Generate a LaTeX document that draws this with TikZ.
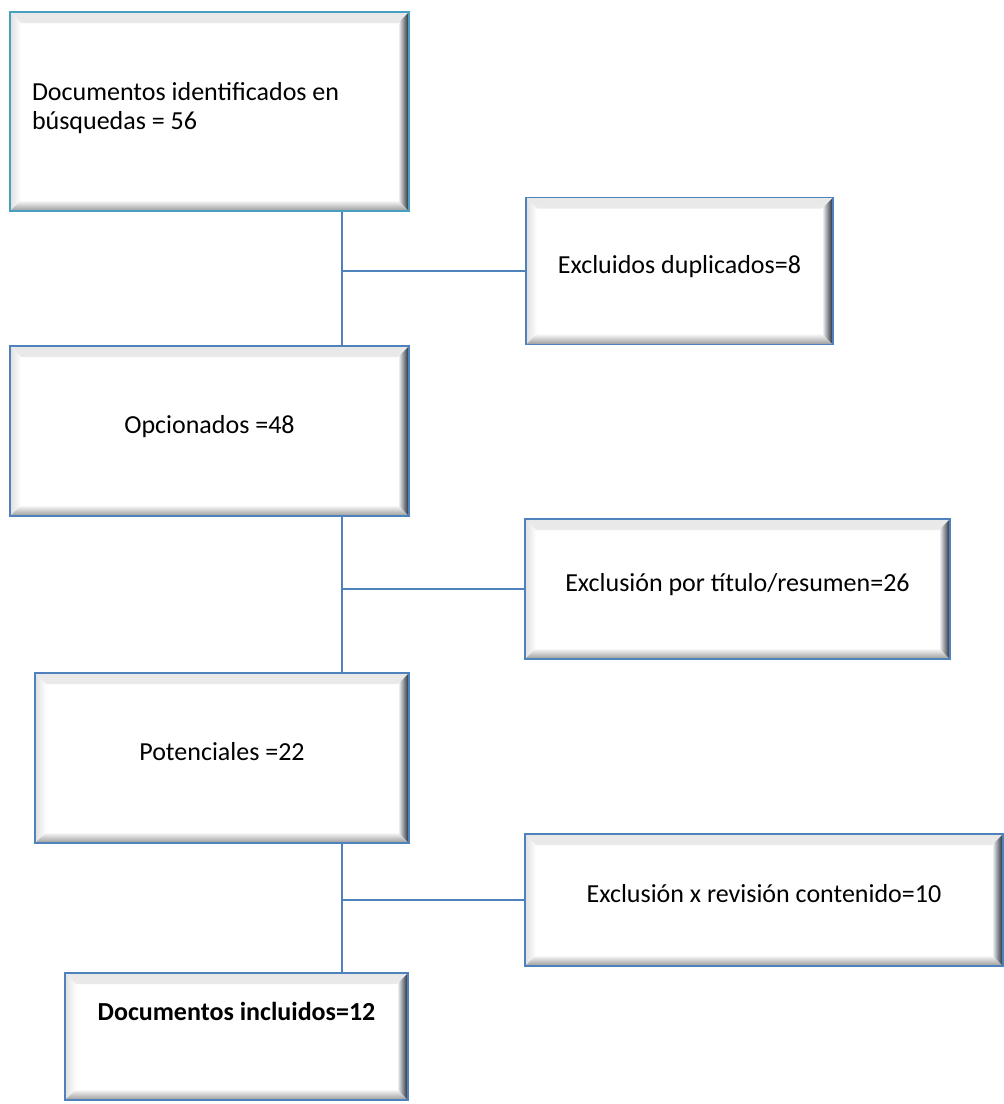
\documentclass[tikz,border=0pt]{standalone}
\usepackage{fontspec}
\setmainfont{Carlito}
\usepackage{tikz}
\usetikzlibrary{positioning}
\definecolor{boxblue}{HTML}{4F81BD}
\definecolor{boxteal}{HTML}{46A0BE}
\definecolor{bevdark}{HTML}{1A2430}
\def\bevw{11pt}

\tikzset{
  bevelbox/.style={draw=boxblue, line width=1.5pt, fill=white, inner sep=0pt,
    font=\fontsize{26}{29}\selectfont, text depth=14pt,
    path picture={
      % top and left edges, light
      \shade[top color=gray!18, bottom color=white]
        (path picture bounding box.north west) -- (path picture bounding box.north east)
        -- ([shift={(-\bevw,-\bevw)}]path picture bounding box.north east)
        -- ([shift={(\bevw,-\bevw)}]path picture bounding box.north west) -- cycle;
      \shade[left color=gray!25, right color=white]
        (path picture bounding box.north west) -- (path picture bounding box.south west)
        -- ([shift={(\bevw,\bevw)}]path picture bounding box.south west)
        -- ([shift={(\bevw,-\bevw)}]path picture bounding box.north west) -- cycle;
      % bottom edge, grey
      \shade[top color=white, middle color=gray!40, bottom color=gray!80]
        (path picture bounding box.south west) -- (path picture bounding box.south east)
        -- ([shift={(-\bevw,\bevw)}]path picture bounding box.south east)
        -- ([shift={(\bevw,\bevw)}]path picture bounding box.south west) -- cycle;
      % right edge, dark
      \shade[left color=white, middle color=gray!75, right color=bevdark]
        (path picture bounding box.north east) -- (path picture bounding box.south east)
        -- ([shift={(-\bevw,\bevw)}]path picture bounding box.south east)
        -- ([shift={(-\bevw,-\bevw)}]path picture bounding box.north east) -- cycle;
    }},
  link/.style={draw=boxblue, line width=1.5pt},
}

\begin{document}
\begin{tikzpicture}[x=1pt, y=-1pt]
\useasboundingbox (0,0) rectangle (1004,1104);
% main column
\node[bevelbox, draw=boxteal, minimum width=399, minimum height=199, align=flush left, text width=355, text depth=40pt] (found) at (209.5,111.5) {Documentos identificados en\\búsquedas = 56};
\node[bevelbox, minimum width=399, minimum height=170] (chosen) at (209.5,431) {Opcionados =48};
\node[bevelbox, minimum width=374, minimum height=170] (potential) at (222,758) {Potenciales =22};
\node[bevelbox, minimum width=343, minimum height=127, text depth=51pt, font=\fontsize{26}{29}\selectfont\bfseries] (included) at (236.5,1036.5) {Documentos incluidos=12};
% exclusions
\node[bevelbox, minimum width=307, minimum height=147] (dupl) at (679.5,271) {Excluidos duplicados=8};
\node[bevelbox, minimum width=425, minimum height=140] (title) at (737.5,589) {Exclusión por título/resumen=26};
\node[bevelbox, minimum width=478, minimum height=132] (review) at (764,900) {Exclusión x revisión contenido=10};
% connectors
\coordinate (spine) at (342,0);
\draw[link] (found.south -| spine) -- (chosen.north -| spine);
\draw[link] (dupl.west -| spine) -- (dupl.west);
\draw[link] (chosen.south -| spine) -- (potential.north -| spine);
\draw[link] (title.west -| spine) -- (title.west);
\draw[link] (potential.south -| spine) -- (included.north -| spine);
\draw[link] (review.west -| spine) -- (review.west);
\end{tikzpicture}
\end{document}
